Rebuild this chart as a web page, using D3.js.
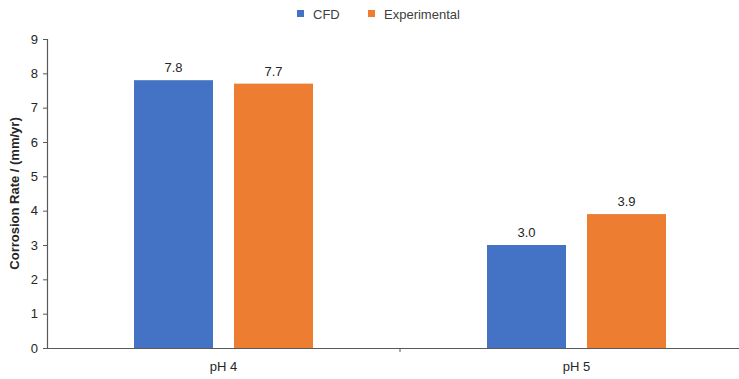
<!DOCTYPE html>
<html>
<head>
<meta charset="utf-8">
<script src="https://cdn.jsdelivr.net/npm/d3@7"></script>
<style>
  html, body { margin: 0; padding: 0; background: #fff; }
  svg { display: block; font-family: "Liberation Sans", Arial, sans-serif; }
</style>
</head>
<body>
<svg id="chart" width="739" height="379"></svg>
<script>
// Corrosion rate by pH: CFD prediction vs experiment
const categories = ["pH 4", "pH 5"];
const seriesNames = ["CFD", "Experimental"];
const cfdValues = [7.8, 3.0];
const experimentalValues = [7.7, 3.9];
const yTicks = [0, 1, 2, 3, 4, 5, 6, 7, 8, 9];
const colors = ["#4472C4", "#ED7D31"];

const svg = d3.select("#chart");
const margin = { left: 47, top: 39, bottom: 31 };
const plotRight = 753;           // plot area runs past the window edge
const height = 379;

const x = d3.scaleBand().domain(categories).range([margin.left, plotRight]).paddingInner(0).paddingOuter(0);
const xSeries = d3.scaleBand().domain(seriesNames).range([0, x.bandwidth()]).paddingInner(0.21).paddingOuter(0.87);
const y = d3.scaleLinear().domain([0, 9]).range([height - margin.bottom, margin.top]);

const data = categories.map((c, i) => ({ cat: c, values: [cfdValues[i], experimentalValues[i]] }));

// bars
const groups = svg.append("g").selectAll("g").data(data).join("g")
  .attr("transform", d => `translate(${x(d.cat)},0)`);

groups.selectAll("rect").data(d => d.values.map((v, j) => ({ name: seriesNames[j], v, j })))
  .join("rect")
  .attr("x", d => xSeries(d.name))
  .attr("width", xSeries.bandwidth())
  .attr("y", d => y(d.v))
  .attr("height", d => y(0) - y(d.v))
  .attr("fill", d => colors[d.j]);

groups.selectAll("text").data(d => d.values.map((v, j) => ({ name: seriesNames[j], v, j })))
  .join("text")
  .attr("x", d => xSeries(d.name) + xSeries.bandwidth() / 2)
  .attr("y", d => y(d.v) - 8)
  .attr("text-anchor", "middle")
  .attr("font-size", 13)
  .attr("fill", "#262626")
  .text(d => d3.format(".1f")(d.v));

// y axis
const yAxis = svg.append("g")
  .attr("transform", `translate(${margin.left},0)`)
  .call(d3.axisLeft(y).tickValues(yTicks).tickSize(4).tickPadding(5).tickFormat(d3.format("d")));
yAxis.select(".domain").attr("stroke", "#595959").attr("stroke-width", 1.2);
yAxis.selectAll(".tick line").attr("stroke", "#595959");
yAxis.selectAll(".tick text").attr("font-size", 13).attr("fill", "#262626")
  .attr("font-family", "Liberation Sans, Arial, sans-serif");

// x axis
const xAxis = svg.append("g")
  .attr("transform", `translate(0,${y(0)})`)
  .call(d3.axisBottom(x).tickSize(0).tickPadding(14));
xAxis.select(".domain").attr("stroke", "#595959").attr("stroke-width", 1.2);
xAxis.selectAll(".tick text").attr("font-size", 13).attr("fill", "#262626")
  .attr("font-family", "Liberation Sans, Arial, sans-serif");
// category separator ticks
xAxis.selectAll(".sep").data(categories.slice(1)).join("line")
  .attr("class", "sep")
  .attr("x1", d => x(d)).attr("x2", d => x(d))
  .attr("y1", 0).attr("y2", 4)
  .attr("stroke", "#595959");

// y axis title
svg.append("text")
  .attr("transform", `translate(19,${(y(0) + y(9)) / 2}) rotate(-90)`)
  .attr("text-anchor", "middle")
  .attr("font-size", 13)
  .attr("font-weight", "bold")
  .attr("fill", "#262626")
  .text("Corrosion Rate / (mm/yr)");

// legend
const legendX = [297, 368];
const legend = svg.append("g").selectAll("g").data(seriesNames).join("g")
  .attr("transform", (d, i) => `translate(${legendX[i]},14)`);
legend.append("rect").attr("x", 0).attr("y", -4).attr("width", 7).attr("height", 7)
  .attr("fill", (d, i) => colors[i]);
legend.append("text").attr("x", 16).attr("y", 4.5).attr("font-size", 13).attr("fill", "#404040")
  .text(d => d);
</script>
</body>
</html>
